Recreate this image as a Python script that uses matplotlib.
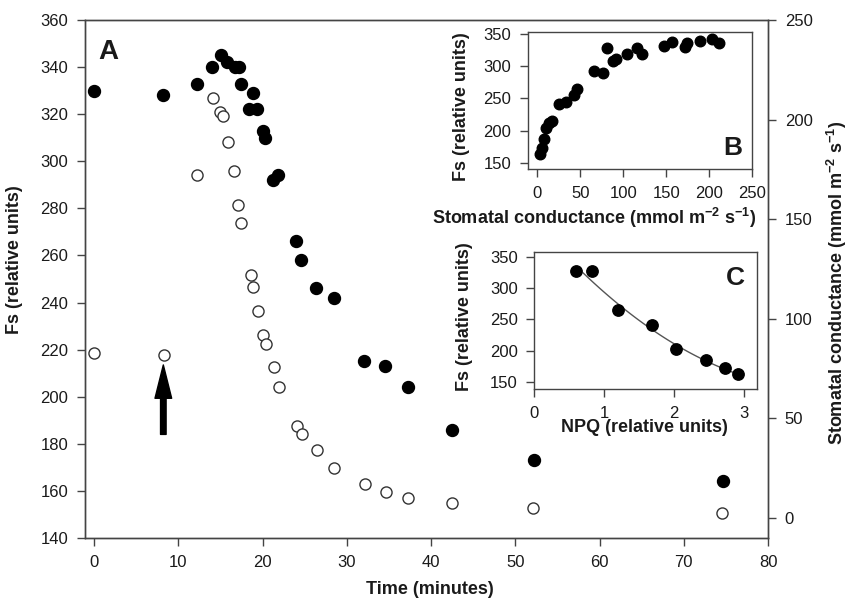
import numpy as np
import matplotlib
matplotlib.use("Agg")
import matplotlib.pyplot as plt
from matplotlib.patches import FancyArrowPatch

plt.rcParams['font.family'] = ['Liberation Sans', 'DejaVu Sans']
plt.rcParams['mathtext.fontset'] = 'custom'
plt.rcParams['mathtext.rm'] = 'Liberation Sans'
plt.rcParams['mathtext.bf'] = 'Liberation Sans:bold'

# ---- data: main panel A ----
time_fs = [0, 8.2, 12.2, 14.0, 15.0, 15.8, 16.7, 17.2, 17.4, 18.8, 18.4, 19.3, 20.0, 20.3,
           21.2, 21.8, 24.0, 24.6, 26.3, 28.5, 32.0, 34.5, 37.3, 42.5, 52.2, 74.6]
fs_vals = [330, 328, 333, 340, 345, 342, 340, 340, 333, 329, 322, 322, 313, 310,
           292, 294, 266, 258, 246, 242, 215, 213, 204, 186, 173, 164]

time_gs = [0, 8.3, 12.2, 14.1, 14.9, 15.3, 15.9, 16.6, 17.1, 17.4, 18.6, 18.8, 19.4, 20.0,
           20.4, 21.3, 21.9, 24.1, 24.7, 26.4, 28.5, 32.1, 34.6, 37.3, 42.5, 52.1, 74.5]
gs_vals = [83, 82, 172, 211, 204, 202, 189, 174, 157, 148, 122, 116, 104, 92,
           87.5, 76, 66, 46, 42, 34, 25, 17, 13, 10, 7.4, 4.9, 2.5]

left_ticks = list(range(140, 361, 20))
right_ticks = [0, 50, 100, 150, 200, 250]
time_ticks = list(range(0, 81, 10))

# ---- data: inset B ----
b_gs = [2.5, 4.9, 7.4, 10.2, 12.9, 17.2, 24.9, 33.7, 42.1, 46, 66, 76, 81, 87.5, 92,
        104, 116, 122, 148, 157, 172, 174, 189, 203, 211]
b_fs = [164, 173, 186, 204, 212, 215, 241, 244, 256, 264, 293, 290, 328, 309, 312,
        320, 328, 320, 331, 338, 330, 337, 340, 343, 337]
b_xticks = [0, 50, 100, 150, 200, 250]
b_yticks = [150, 200, 250, 300, 350]

# ---- data: inset C ----
c_npq = [0.59, 0.82, 1.19, 1.69, 2.02, 2.46, 2.72, 2.91]
c_fs = [327, 328, 265, 241, 203, 185, 172, 163]
c_xticks = [0, 1, 2, 3]
c_yticks = [150, 200, 250, 300, 350]

SPINE = '#444444'
TXT = '#1a1a1a'
W, H = 848, 604

def px_rect(l, r, t, b):
    return [l / W, (H - b) / H, (r - l) / W, (b - t) / H]

def style(ax, length=5.5, pad=6.5):
    for s in ax.spines.values():
        s.set_color(SPINE)
        s.set_linewidth(1.0)
    ax.tick_params(direction='out', length=length, width=1.0, color=SPINE,
                   labelsize=12, labelcolor=TXT, pad=pad)

fig = plt.figure(figsize=(W / 100, H / 100), dpi=100)

ax = fig.add_axes(px_rect(85, 768, 20, 538))
ax.plot(time_fs, fs_vals, 'o', color='black', ms=8.6, mec='black', zorder=3)
ax.set_xlim(-1.1, 80)
ax.set_ylim(140, 360)
ax.set_xticks(time_ticks)
ax.set_yticks(left_ticks)
style(ax)
ax.set_xlabel('Time (minutes)', fontsize=13, fontweight='bold', color=TXT)
ax.set_ylabel('Fs (relative units)', fontsize=13, fontweight='bold', color=TXT)
ax.xaxis.label.set_va('center')
ax.yaxis.label.set_va('center')
ax.xaxis.set_label_coords(0.505, -0.100)
ax.yaxis.set_label_coords(-0.1025, 0.537)
ax.text(118, 347, 'A', fontsize=20, fontweight='bold', ha='center', va='center',
        color=TXT)

arrow = FancyArrowPatch((8.2, 184), (8.2, 213.5),
                        arrowstyle='simple,head_length=24,head_width=12,tail_width=4',
                        mutation_scale=1, color='black', shrinkA=0, shrinkB=0, zorder=4)
ax.add_patch(arrow)
ax.patches[-1].set_transform(ax.transData)

ax2 = ax.twinx()
ax2.plot(time_gs, gs_vals, 'o', ms=8.0, mfc='white', mec='#333333', mew=1.0, zorder=3)
ax2.set_ylim(-10, 250)
ax2.set_yticks(right_ticks)
style(ax2)
ax2.set_ylabel(r'Stomatal conductance (mmol m$^{\mathbf{-2}}$ s$^{\mathbf{-1}}$)',
               fontsize=13, fontweight='bold', color=TXT)
ax2.yaxis.label.set_va('center')
ax2.yaxis.set_label_coords(1.101, 0.492)
# fix 'A' position in data coords
ax.texts[-1].set_position((1.7, 346.5))

# ---- inset B ----
axb = fig.add_axes(px_rect(528, 752, 31.7, 169))
axb.set_zorder(5)
axb.plot(b_gs, b_fs, 'o', color='black', ms=7.6, zorder=3)
axb.set_xlim(-11, 250)
axb.set_ylim(140, 354)
axb.set_xticks(b_xticks)
axb.set_yticks(b_yticks)
style(axb)
axb.set_xlabel(r'Stomatal conductance (mmol m$^{\mathbf{-2}}$ s$^{\mathbf{-1}}$)',
               fontsize=13, fontweight='bold', color=TXT)
axb.set_ylabel('Fs (relative units)', fontsize=13, fontweight='bold', color=TXT)
axb.xaxis.label.set_va('center')
axb.yaxis.label.set_va('center')
axb.xaxis.set_label_coords(0.295, -0.357)
axb.yaxis.set_label_coords(-0.295, 0.452)
axb.text(0.913, 0.155, 'B', transform=axb.transAxes, fontsize=19, fontweight='bold',
         ha='center', va='center', color=TXT)

# ---- inset C ----
axc = fig.add_axes(px_rect(534.3, 756.7, 252.3, 389))
axc.set_zorder(5)
coef = np.polyfit(c_npq, c_fs, 2)
xx = np.linspace(0.7, 2.88, 100)
axc.plot(xx, np.polyval(coef, xx), '-', color='#555555', lw=1.0, zorder=2)
axc.plot(c_npq, c_fs, 'o', color='black', ms=8.2, zorder=3)
axc.set_xlim(0, 3.18)
axc.set_ylim(139.3, 357)
axc.set_xticks(c_xticks)
axc.set_yticks(c_yticks)
style(axc)
axc.set_xlabel('NPQ (relative units)', fontsize=13, fontweight='bold', color=TXT)
axc.set_ylabel('Fs (relative units)', fontsize=13, fontweight='bold', color=TXT)
axc.xaxis.label.set_va('center')
axc.yaxis.label.set_va('center')
axc.xaxis.set_label_coords(0.497, -0.285)
axc.yaxis.set_label_coords(-0.312, 0.527)
axc.text(0.903, 0.815, 'C', transform=axc.transAxes, fontsize=19, fontweight='bold',
         ha='center', va='center', color=TXT)

fig.savefig('out.png', dpi=100, facecolor='white')
